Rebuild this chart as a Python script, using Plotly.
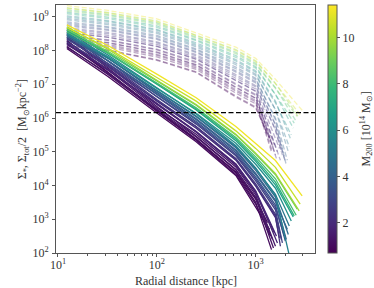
import numpy as np
import plotly.graph_objects as go
from plotly.colors import sample_colorscale

# ---- data (log10 values of surface density) ----
MASS = [0.8, 0.9, 1.0, 1.1, 1.2, 1.3, 1.4, 1.5, 1.7, 1.8, 2.0, 2.2, 2.4, 2.7, 3.0,
        3.3, 3.6, 4.0, 4.4, 4.9, 5.4, 6.0, 6.8, 7.5, 8.2, 9.0, 9.8, 10.5, 11.2]
LOG_R_END = [3.12, 3.14, 3.16, 3.15, 3.18, 3.17, 3.20, 3.19, 3.22, 3.21, 3.24, 3.25, 3.26,
             3.27, 3.29, 3.30, 3.31, 3.32, 3.33, 3.34, 3.35, 3.36, 3.38, 3.39, 3.41, 3.42,
             3.44, 3.45, 3.47]
R_GRID_KPC = [12.3, 32, 100, 250, 630, 1000, 1585]

STAR_12 = [8.22, 8.06, 8.30, 8.12, 8.40, 8.10, 8.28, 8.18, 8.45, 8.20, 8.36, 8.50, 8.25, 8.55,
           8.34, 8.48, 8.60, 8.40, 8.52, 8.45, 8.62, 8.50, 8.58, 8.66, 8.55, 8.62, 8.70, 8.68, 8.76]
STAR_32 = [7.35, 7.23, 7.37, 7.29, 7.48, 7.32, 7.43, 7.42, 7.54, 7.45, 7.57, 7.62, 7.53, 7.69,
           7.62, 7.70, 7.78, 7.70, 7.78, 7.77, 7.87, 7.82, 7.92, 7.94, 7.92, 7.98, 8.04, 8.07, 8.15]
STAR_100 = [6.22, 6.15, 6.24, 6.20, 6.34, 6.26, 6.30, 6.42, 6.44, 6.40, 6.50, 6.55, 6.52, 6.63,
            6.64, 6.70, 6.76, 6.72, 6.80, 6.82, 6.90, 6.88, 7.00, 7.02, 7.04, 7.10, 7.12, 7.20, 7.30]
STAR_250 = [5.36, 5.30, 5.38, 5.34, 5.46, 5.44, 5.52, 5.58, 5.60, 5.60, 5.70, 5.74, 5.75, 5.82,
            5.86, 5.90, 5.98, 5.95, 6.04, 6.06, 6.12, 6.14, 6.24, 6.27, 6.30, 6.38, 6.40, 6.50, 6.60]
STAR_630 = [4.40, 4.30, 4.38, 4.33, 4.48, 4.46, 4.55, 4.60, 4.63, 4.64, 4.75, 4.78, 4.80, 4.88,
            4.92, 4.97, 5.05, 5.02, 5.12, 5.15, 5.18, 5.25, 5.33, 5.38, 5.42, 5.50, 5.52, 5.62, 5.75]
STAR_1000 = [3.60, 3.38, 3.50, 3.45, 3.62, 3.65, 3.72, 3.78, 3.82, 3.84, 3.98, 4.00, 4.05, 4.14,
             4.20, 4.25, 4.36, 4.32, 4.45, 4.50, 4.52, 4.63, 4.72, 4.78, 4.85, 4.93, 4.96, 5.10, 5.25]
STAR_1585 = [None, None, None, None, None, None, None, None, None, None, 3.05, 3.10, 3.15, 3.28,
             3.35, 3.42, 3.56, 3.52, 3.66, 3.74, 3.70, 3.92, 4.02, 4.10, 4.20, 4.32, 4.35, 4.54, 4.74]
STAR_END = [2.90, 2.70, 2.10, 2.50, 2.15, 2.40, 2.20, 2.60, 2.30, 2.50, 2.45, 2.20, 2.40, 2.30,
            2.50, 2.35, 2.40, 2.70, 2.55, 2.80, 1.80, 2.95, 3.07, 3.10, 3.12, 3.30, 3.25, 3.45, 3.69]

TOT_12 = [8.15, 8.13, 8.27, 8.23, 8.37, 8.31, 8.43, 8.36, 8.53, 8.45, 8.59, 8.54, 8.67, 8.63,
          8.77, 8.73, 8.85, 8.81, 8.95, 8.91, 9.03, 8.99, 9.13, 9.09, 9.21, 9.17, 9.27, 9.25, 9.33]
TOT_32 = [8.02, 8.00, 8.14, 8.10, 8.24, 8.18, 8.30, 8.23, 8.39, 8.32, 8.45, 8.40, 8.54, 8.50,
          8.63, 8.60, 8.71, 8.68, 8.81, 8.77, 8.89, 8.86, 8.99, 8.95, 9.07, 9.04, 9.13, 9.11, 9.19]
TOT_100 = [7.73, 7.71, 7.86, 7.81, 7.96, 7.89, 8.02, 7.94, 8.12, 8.04, 8.18, 8.13, 8.26, 8.23,
           8.36, 8.33, 8.45, 8.41, 8.55, 8.51, 8.63, 8.60, 8.73, 8.69, 8.82, 8.78, 8.88, 8.85, 8.94]
TOT_250 = [7.37, 7.35, 7.49, 7.44, 7.58, 7.53, 7.64, 7.57, 7.74, 7.67, 7.79, 7.75, 7.88, 7.84,
           7.97, 7.94, 8.05, 8.02, 8.15, 8.11, 8.23, 8.19, 8.32, 8.29, 8.40, 8.37, 8.46, 8.44, 8.52]
TOT_630 = [6.65, 6.62, 6.80, 6.74, 6.92, 6.84, 6.99, 6.90, 7.11, 7.02, 7.18, 7.12, 7.29, 7.24,
           7.40, 7.36, 7.51, 7.46, 7.63, 7.58, 7.73, 7.69, 7.85, 7.80, 7.95, 7.91, 8.03, 8.00, 8.10]
TOT_1000 = [6.33, 6.30, 6.48, 6.42, 6.59, 6.52, 6.67, 6.58, 6.79, 6.70, 6.86, 6.80, 6.96, 6.92,
            7.08, 7.04, 7.18, 7.14, 7.30, 7.26, 7.40, 7.36, 7.52, 7.48, 7.62, 7.58, 7.70, 7.67, 7.77]
TOT_1585 = [None, None, None, None, None, None, None, None, None, None, None, None, 5.65, 5.65,
            5.80, 5.80, 5.95, 6.00, 6.25, 6.25, 6.50, 6.45, 6.70, 6.70, 6.90, 6.88, 7.03, 7.02, 7.15]
TOT_END = [5.50, 5.40, 5.00, 5.30, 5.10, 5.00, 4.90, 5.20, 5.00, 4.80, 5.10, 4.75, 5.00, 4.90,
           4.80, 4.70, 4.60, 4.75, 5.00, 5.15, 5.40, 5.50, 5.70, 5.85, 5.90, 6.05, 6.00, 6.10, 6.23]

THRESHOLD = 1.45e6
CMIN, CMAX = 0.69, 11.4
X_TICKS = [10, 100, 1000]
X_TICKTEXT = ["10<sup>1</sup>", "10<sup>2</sup>", "10<sup>3</sup>"]
Y_TICKS = [1e2, 1e3, 1e4, 1e5, 1e6, 1e7, 1e8, 1e9]
Y_TICKTEXT = ["10<sup>%d</sup>" % k for k in range(2, 10)]
CB_TICKS = [2, 4, 6, 8, 10]

STAR_GRID = [STAR_12, STAR_32, STAR_100, STAR_250, STAR_630, STAR_1000, STAR_1585]
TOT_GRID = [TOT_12, TOT_32, TOT_100, TOT_250, TOT_630, TOT_1000, TOT_1585]

FONT = "Liberation Serif"
AX = "#555555"
TXT = "#333333"


def profile(i, grid, end):
    xs, ys = [], []
    for r, col in zip(R_GRID_KPC, grid):
        v = col[i]
        if v is None or np.log10(r) >= LOG_R_END[i]:
            continue
        xs.append(r)
        ys.append(10 ** v)
    xs.append(10 ** LOG_R_END[i])
    ys.append(10 ** end[i])
    return xs, ys


colors = [sample_colorscale("Viridis", [(m - CMIN) / (CMAX - CMIN)])[0] for m in MASS]

fig = go.Figure()
for i in range(len(MASS)):
    xs, ys = profile(i, TOT_GRID, TOT_END)
    fig.add_trace(go.Scatter(x=xs, y=ys, mode="lines", opacity=0.35,
                             line=dict(color=colors[i], width=1.3, dash="5px,2.5px"),
                             showlegend=False, hoverinfo="skip"))
for i in range(len(MASS)):
    xs, ys = profile(i, STAR_GRID, STAR_END)
    fig.add_trace(go.Scatter(x=xs, y=ys, mode="lines",
                             line=dict(color=colors[i], width=1.3),
                             showlegend=False, hoverinfo="skip"))

fig.add_shape(type="line", xref="paper", x0=0, x1=1, yref="y", y0=THRESHOLD, y1=THRESHOLD,
              line=dict(color="black", width=1.4, dash="5px,2.5px"))

fig.add_trace(go.Scatter(
    x=[None], y=[None], mode="markers", showlegend=False, hoverinfo="skip",
    marker=dict(colorscale="Viridis", cmin=CMIN, cmax=CMAX, color=[CMIN], showscale=True,
                colorbar=dict(thickness=9, len=1, lenmode="fraction", y=0.5, yanchor="middle",
                              x=1.049, xanchor="left", xpad=0, ypad=0,
                              outlinecolor=AX, outlinewidth=1,
                              ticks="outside", ticklen=3, tickcolor=AX,
                              tickvals=CB_TICKS, tickfont=dict(family=FONT, size=12, color=TXT)))))

fig.add_annotation(text="M<sub>200</sub> [10<sup>14</sup> M<sub>⊙</sub>]", textangle=-90,
                   xref="paper", yref="paper", x=1.195, y=0.5, xanchor="center", yanchor="middle",
                   showarrow=False, font=dict(family=FONT, size=12, color=TXT))
fig.add_annotation(text="Radial distance [kpc]",
                   xref="paper", yref="paper", x=0.5, y=-0.113, xanchor="center", yanchor="middle",
                   showarrow=False, font=dict(family=FONT, size=12, color=TXT))
fig.add_annotation(text="Σ<sub>*</sub>, Σ<sub>tot</sub>/2  [M<sub>⊙</sub>kpc<sup>−2</sup>]",
                   textangle=-90, xref="paper", yref="paper", x=-0.13, y=0.5,
                   xanchor="center", yanchor="middle",
                   showarrow=False, font=dict(family=FONT, size=12, color=TXT))

minor_x = [m * 10 ** d for d in range(0, 4) for m in range(2, 10)]

fig.update_layout(
    width=374, height=288,
    margin=dict(l=56, r=59, t=5, b=35, autoexpand=False),
    paper_bgcolor="white", plot_bgcolor="white",
    font=dict(family=FONT, size=12, color=TXT),
    xaxis=dict(type="log", range=[0.98, 3.60], showgrid=False, zeroline=False, automargin=False,
               showline=True, mirror=True, linecolor=AX, linewidth=1,
               ticks="outside", ticklen=3, tickcolor=AX, ticklabelstandoff=-2,
               tickmode="array", tickvals=X_TICKS, ticktext=X_TICKTEXT,
               minor=dict(tickmode="array", tickvals=minor_x, ticks="outside", ticklen=2,
                          tickcolor=AX, showgrid=False)),
    yaxis=dict(type="log", range=[2, 9.35], showgrid=False, zeroline=False, automargin=False,
               showline=True, mirror=True, linecolor=AX, linewidth=1,
               ticks="outside", ticklen=3, tickcolor=AX, ticklabelstandoff=1,
               tickmode="array", tickvals=Y_TICKS, ticktext=Y_TICKTEXT),
)

fig.write_html("out.html", config={"displayModeBar": False},
               post_script="document.body.style.margin='0';document.body.style.padding='0';")
